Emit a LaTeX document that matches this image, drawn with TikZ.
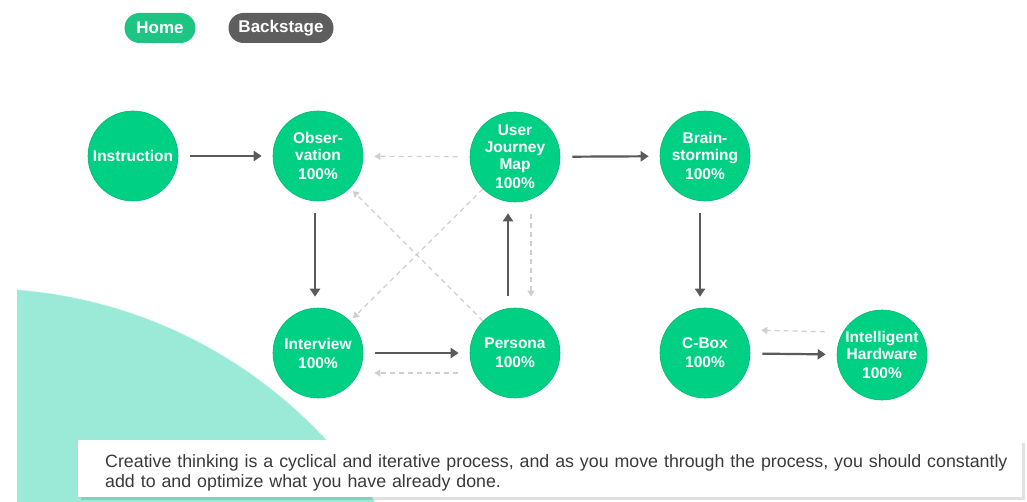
\documentclass[tikz,border=0pt]{standalone}
\usepackage{fontspec}
\setmainfont{Liberation Sans}
\usetikzlibrary{arrows.meta}

\definecolor{phasegreen}{HTML}{00D084}
\definecolor{tabgreen}{HTML}{1DC482}
\definecolor{tabgray}{HTML}{5E5E5E}
\definecolor{mint}{HTML}{9BEAD7}
\definecolor{flowgray}{HTML}{5A5A5A}
\definecolor{backgray}{HTML}{CFCFCF}
\definecolor{notetext}{HTML}{3A3A3A}

\begin{document}
\begin{tikzpicture}[
  x=1pt, y=-1pt,
  phase/.style={circle, fill=phasegreen, draw=phasegreen!88!black, line width=0.6pt,
    minimum size=90pt, inner sep=0pt, align=center, text=white,
    font=\bfseries\fontsize{15.5}{17}\selectfont},
  tab/.style={rounded corners=15pt, minimum height=30pt, inner sep=0pt,
    text=white, font=\bfseries\fontsize{17}{19}\selectfont},
  flow/.style={-{Triangle[length=8pt,width=10pt]}, line width=2.2pt, draw=flowgray,
    shorten <=12pt, shorten >=11pt},
  back/.style={-{Triangle[length=6pt,width=7pt]}, line width=1.2pt, draw=backgray,
    dash pattern=on 5pt off 4pt, shorten <=12pt, shorten >=11pt},
  notebox/.style={anchor=north west, fill=white, minimum width=944pt,
    minimum height=57pt, inner sep=0pt},
  note/.style={anchor=north west, inner sep=0pt, text width=915pt, align=left,
    text=notetext, font=\fontsize{17.8}{20}\selectfont},
]
\useasboundingbox (0,0) rectangle (1027,502);

% ── background quarter disc ──
\begin{scope}
  \clip (17,0) rectangle (1027,502);
  \fill[mint] (-20,760) circle (472);
  \draw[white, line width=5pt, opacity=0.7] (-20,760) circle (474);
\end{scope}

% ── tabs ──
\node[tab, fill=tabgreen, minimum width=71pt] (home) at (160,28) {Home};
\node[tab, fill=tabgray, minimum width=105pt] (stage) at (281,28) {Backstage};

% ── phases, top row ──
\node[phase] (ins) at (133,156) {Instruction};
\node[phase] (obs) at (318,156) {Obser-\\vation\\[2pt]100\%};
\node[phase] (ujm) at (515,157) {User\\Journey\\Map\\[2pt]100\%};
\node[phase] (brn) at (705,156) {Brain-\\storming\\[2pt]100\%};

% ── phases, bottom row ──
\node[phase] (itv) at (318,353) {Interview\\[2pt]100\%};
\node[phase] (per) at (515,353) {Persona\\[2pt]100\%};
\node[phase] (cbx) at (705,353) {C-Box\\[2pt]100\%};
\node[phase] (ihw) at (882,355) {Intelligent\\Hardware\\[2pt]100\%};

% ── forward steps ──
\draw[flow] (ins) -- (obs);
\draw[flow] ([xshift=-3pt]obs.south) -- ([xshift=-3pt]itv.north);
\draw[flow] (itv) -- (per);
\draw[flow] ([xshift=-7pt]per.north) -- ([xshift=-7pt]ujm.south);
\draw[flow] (ujm) -- (brn);
\draw[flow] ([xshift=-5pt]brn.south) -- ([xshift=-5pt]cbx.north);
\draw[flow] (cbx) -- (ihw);

% ── iterations back ──
\draw[back] (ujm) -- (obs);
\draw[back] ([xshift=16pt]ujm.south) -- ([xshift=16pt]per.north);
\draw[back] ([yshift=-20pt]per.west) -- ([yshift=-20pt]itv.east);
\draw[back] ([yshift=23pt]ihw.west) -- ([yshift=23pt]cbx.east);
\draw[back, shorten <=0pt, shorten >=4pt] (per) -- (obs);
\draw[back, shorten <=0pt, shorten >=4pt] (ujm) -- (itv);

% ── note box ──
\fill[black, opacity=0.12] (81,443) rectangle (1025,500);
\node[notebox] (box) at (78,440) {};
\node[note] (txt) at (105,454) {Creative thinking is a cyclical and iterative process, and as you move through the process, you should constantly\\add to and optimize what you have already done.};
\end{tikzpicture}
\end{document}
